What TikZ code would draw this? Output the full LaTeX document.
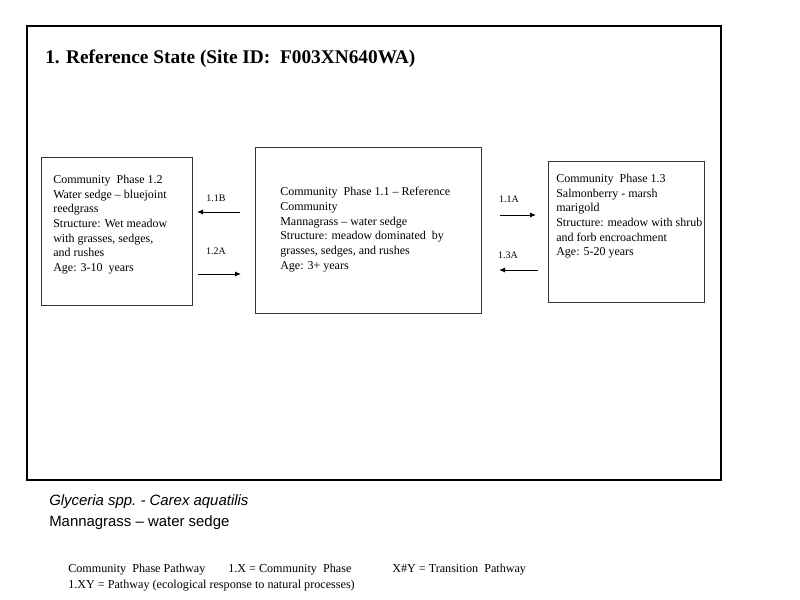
\documentclass[tikz,border=0pt]{standalone}
\usepackage{fontspec}
\setmainfont{Liberation Serif}
\newfontfamily\arialfont[Ligatures=TeX]{Liberation Sans}
\usetikzlibrary{arrows.meta}
\begin{document}
\begin{tikzpicture}[x=0.75pt,y=-0.75pt,
  frame/.style={draw=black,line width=2pt},
  phasebox/.style={draw=black!80,line width=0.8pt,inner sep=0pt,anchor=north west},
  phasetext/.style={inner sep=0pt,anchor=north west,align=left,font=\fontsize{9}{11}\selectfont},
  pathlabel/.style={inner sep=0pt,font=\fontsize{7.5}{9}\selectfont},
  patharrow/.style={line width=0.75pt,-{Latex[length=4.5pt,width=3.8pt]}},
  legend/.style={inner sep=0pt,anchor=base west,font=\fontsize{9.1}{10}\selectfont},
  species/.style={inner sep=0pt,anchor=base west,font=\arialfont\fontsize{11.2}{13}\selectfont}]
\useasboundingbox[fill=white] (0,0) rectangle (800,600);
\draw[frame] (27,26) rectangle (721,480);
\node[inner sep=0pt,anchor=base west,font=\fontsize{14.5}{17}\selectfont\bfseries] (title) at (45,63) {1. Reference State (Site ID:\ \ F003XN640WA)};
% boxes
\node[phasebox,minimum width={151*0.75pt},minimum height={148*0.75pt}] (p12) at (41,157) {};
\node[phasebox,minimum width={226*0.75pt},minimum height={166*0.75pt}] (p11) at (255,147) {};
\node[phasebox,minimum width={156*0.75pt},minimum height={141*0.75pt}] (p13) at (548,161) {};
% texts
\node[phasetext] (t12) at (53,175) {Community\ \ Phase 1.2\\Water sedge – bluejoint\\reedgrass\\Structure: Wet meadow\\with grasses, sedges,\\and rushes\\Age: 3-10\ \ years};
\node[phasetext] (t11) at (280,187) {Community\ \ Phase 1.1 – Reference\\Community\\Mannagrass – water sedge\\Structure: meadow dominated\ \ by\\grasses, sedges, and rushes\\Age: 3+ years};
\node[phasetext] (t13) at (556,174) {Community\ \ Phase 1.3\\Salmonberry - marsh\\marigold\\Structure: meadow with shrub\\and forb encroachment\\Age: 5-20 years};
% arrows
\coordinate (a11b-s) at (240,212); \coordinate (a11b-e) at (197,212);
\coordinate (a12a-s) at (198,274); \coordinate (a12a-e) at (241,274);
\coordinate (a11a-s) at (500,215); \coordinate (a11a-e) at (536,215);
\coordinate (a13a-s) at (538,270); \coordinate (a13a-e) at (499,270);
\draw[patharrow] (a11b-s) -- (a11b-e);
\draw[patharrow] (a12a-s) -- (a12a-e);
\draw[patharrow] (a11a-s) -- (a11a-e);
\draw[patharrow] (a13a-s) -- (a13a-e);
\node[pathlabel] (l11b) at (216,198) {1.1B};
\node[pathlabel] (l12a) at (216,251) {1.2A};
\node[pathlabel] (l11a) at (509,199) {1.1A};
\node[pathlabel] (l13a) at (508,255) {1.3A};
% species
\node[species] (sp1) at (49,505) {\itshape Glyceria spp.\ - Carex aquatilis};
\node[species] (sp2) at (49,526) {Mannagrass – water sedge};
% legend
\node[legend] (lg1) at (68,572) {Community\ \ Phase Pathway};
\node[legend] (lg2) at (228,572) {1.X = Community\ \ Phase};
\node[legend] (lg3) at (392,572) {X\#Y = Transition\ \ Pathway};
\node[legend] (lg4) at (68,588) {1.XY = Pathway (ecological response to natural processes)};
\end{tikzpicture}
\end{document}
